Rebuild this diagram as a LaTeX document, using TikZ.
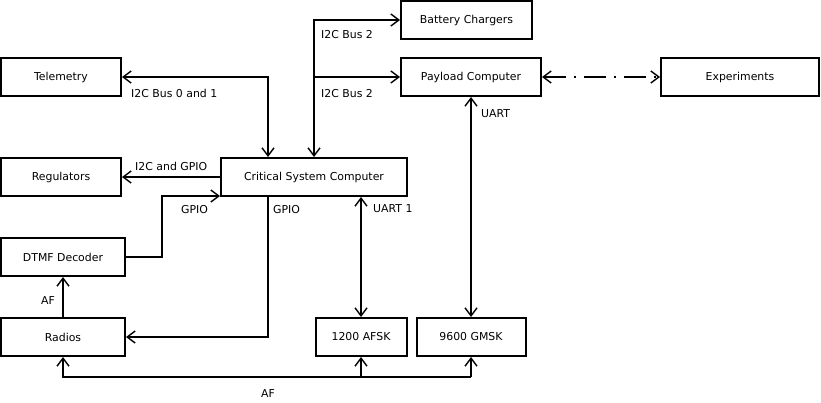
\documentclass[tikz,border=0pt]{standalone}
\usepackage{fontspec}
\setmainfont{DejaVu Sans}
\usetikzlibrary{arrows.meta}
\begin{document}
\begin{tikzpicture}[x=1pt,y=-1pt,
  txt/.style={font=\fontsize{10.9}{13}\selectfont},
  box/.style={draw, line width=2pt, inner sep=0pt, minimum height=38pt, txt},
  barb/.tip={Straight Barb[length=8pt,width=12pt,line width=1.4pt]},
  conn/.style={line width=2pt, -barb},
  biconn/.style={line width=2pt, barb-barb},
  lbl/.style={txt, inner sep=0pt, anchor=west}
]
\useasboundingbox (0,0) rectangle (821,402);
% boxes
\node[box, minimum width=120pt] (telem) at (61,77) {Telemetry};
\node[box, minimum width=120pt] (reg) at (61,177) {Regulators};
\node[box, minimum width=186pt] (csc) at (314,177) {Critical System Computer};
\node[box, minimum width=131pt] (batt) at (466.5,20) {Battery Chargers};
\node[box, minimum width=140pt] (pay) at (471,77) {Payload Computer};
\node[box, minimum width=158pt] (exp) at (740,77) {Experiments};
\node[box, minimum width=124pt] (dtmf) at (63,257) {DTMF Decoder};
\node[box, minimum width=124pt] (radios) at (63,337) {Radios};
\node[box, minimum width=91pt] (afsk) at (361,337) {1200 AFSK};
\node[box, minimum width=109pt] (gmsk) at (471,337) {9600 GMSK};
\coordinate (bus) at (0,377);
% connectors
\draw[biconn] (telem.east) -| ([xshift=-46pt]csc.north);
\draw[biconn] (batt.west) -| (csc.north);
\draw[conn] (csc.north |- pay.west) -- (pay.west);
\draw[conn] (csc.west) -- (reg.east);
\draw[conn] (dtmf.east) -- ++(36,0) |- ([yshift=1pt]csc.south west);
\draw[conn] ([xshift=-46pt]csc.south) |- (radios.east);
\draw[biconn] (afsk.north |- csc.south) -- (afsk.north);
\draw[biconn] (pay.south) -- (gmsk.north);
\draw[biconn, dash pattern=on 22pt off 8pt on 2pt off 8pt] (pay.east) -- (exp.west);
\draw[conn] (gmsk.south |- bus) -| (radios.south);
\draw[conn] (afsk.south |- bus) -- (afsk.south);
\draw[conn] (gmsk.south |- bus) -- (gmsk.south);
\draw[conn] (radios.north) -- (dtmf.south);
% labels
\node[lbl] (l1) at (131,93) {I2C Bus 0 and 1};
\node[lbl] (l2) at (321,35) {I2C Bus 2};
\node[lbl] (l3) at (321,94) {I2C Bus 2};
\node[lbl] (l4) at (135,166) {I2C and GPIO};
\node[lbl] (l5) at (181,210) {GPIO};
\node[lbl] (l6) at (273,210) {GPIO};
\node[lbl] (l7) at (373,209) {UART 1};
\node[lbl] (l8) at (481,114) {UART};
\node[lbl] (l9) at (41,301) {AF};
\node[lbl] (l10) at (261,394) {AF};
\end{tikzpicture}
\end{document}
